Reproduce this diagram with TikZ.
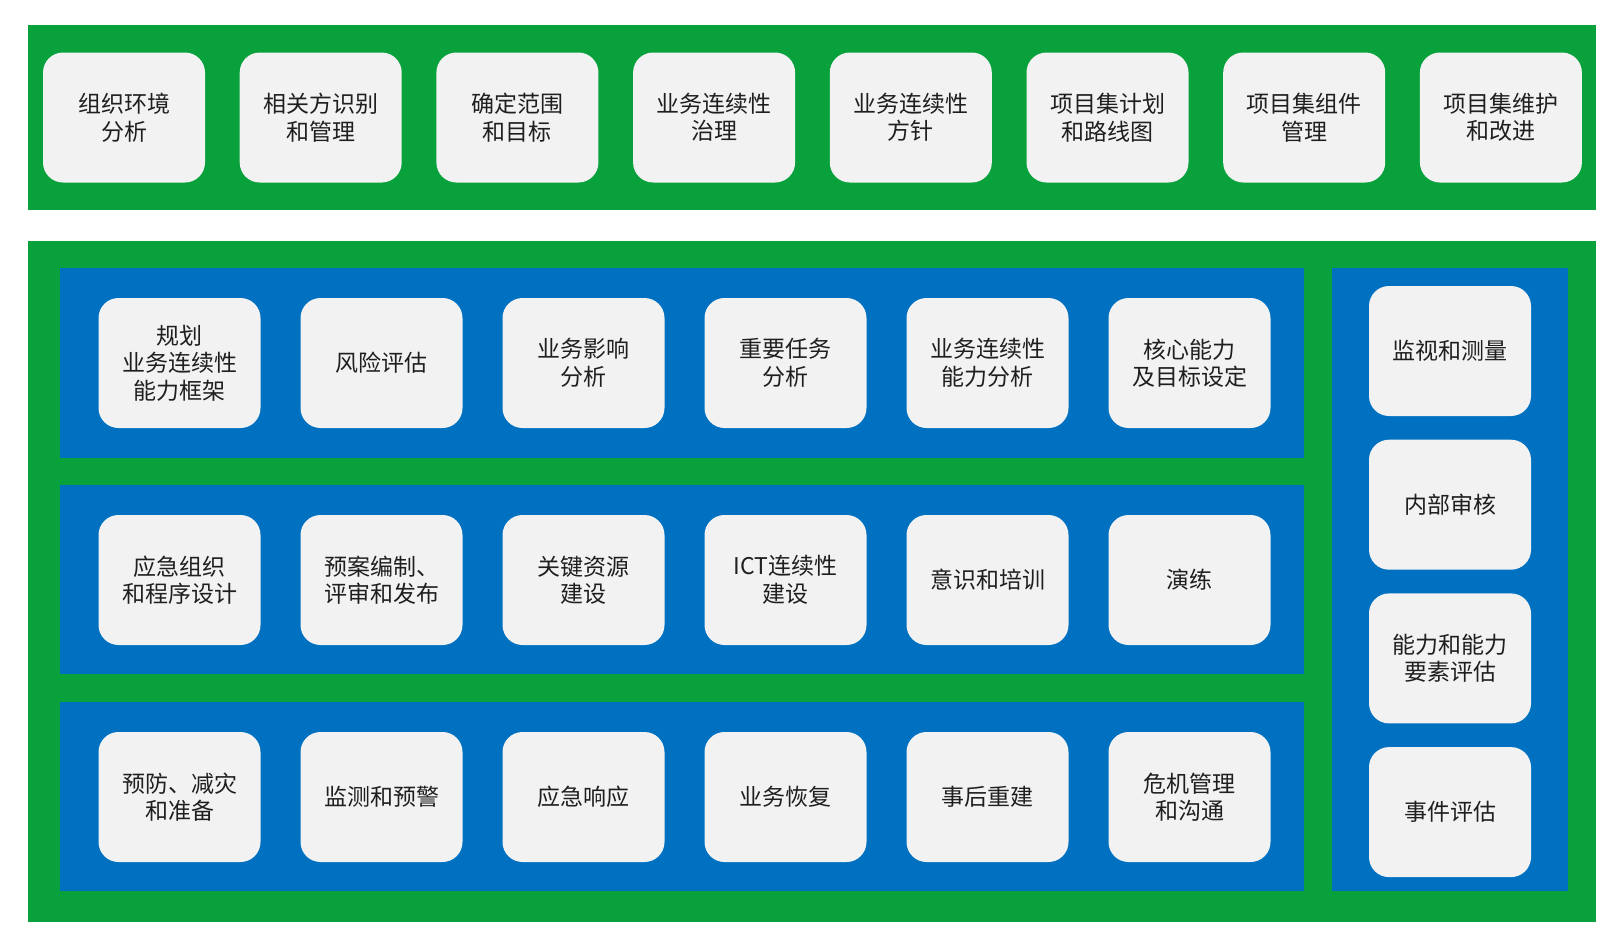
\documentclass[tikz,border=0pt]{standalone}
\usepackage{fontspec}
\setmainfont{Noto Sans CJK SC}
\definecolor{bandgreen}{RGB}{8,161,60}
\definecolor{panelblue}{RGB}{0,112,192}
\definecolor{boxgray}{RGB}{242,242,242}
\begin{document}
\begin{tikzpicture}[x=1pt,y=-1pt,
    item/.style={fill=boxgray, rounded corners=20pt, minimum width=162pt, minimum height=130pt,
      inner sep=0pt, align=center, text=black!88, font=\fontsize{23}{27.5}\selectfont}]
    \useasboundingbox (0,0) rectangle (1624,948);
    \fill[bandgreen] (28,25) rectangle (1596,210);
    \fill[bandgreen] (28,241) rectangle (1596,922);
    \fill[panelblue] (60,268) rectangle (1304,458);
    \fill[panelblue] (60,485) rectangle (1304,674);
    \fill[panelblue] (60,702) rectangle (1304,891);
    \fill[panelblue] (1332,268) rectangle (1568,891);
    \foreach \t [count=\i from 0] in {{组织环境\\分析}, {相关方识别\\和管理}, {确定范围\\和目标},
        {业务连续性\\治理}, {业务连续性\\方针}, {项目集计划\\和路线图}, {项目集组件\\管理}, {项目集维护\\和改进}}
      \node[item] (top\i) at ({124+196.7*\i},117.5) {\t};
    \foreach \t [count=\i from 0] in {{规划\\业务连续性\\能力框架}, 风险评估, {业务影响\\分析},
        {重要任务\\分析}, {业务连续性\\能力分析}, {核心能力\\及目标设定}}
      \node[item] (plan\i) at ({179.5+202*\i},363) {\t};
    \foreach \t [count=\i from 0] in {{应急组织\\和程序设计}, {预案编制、\\评审和发布}, {关键资源\\建设},
        {ICT连续性\\建设}, 意识和培训, 演练}
      \node[item] (build\i) at ({179.5+202*\i},580) {\t};
    \foreach \t [count=\i from 0] in {{预防、减灾\\和准备}, 监测和预警, 应急响应,
        业务恢复, 事后重建, {危机管理\\和沟通}}
      \node[item] (resp\i) at ({179.5+202*\i},797) {\t};
    \foreach \t [count=\i from 0] in {监视和测量, 内部审核, {能力和能力\\要素评估}, 事件评估}
      \node[item] (eval\i) at (1450,{351+153.7*\i}) {\t};
\end{tikzpicture}
\end{document}
